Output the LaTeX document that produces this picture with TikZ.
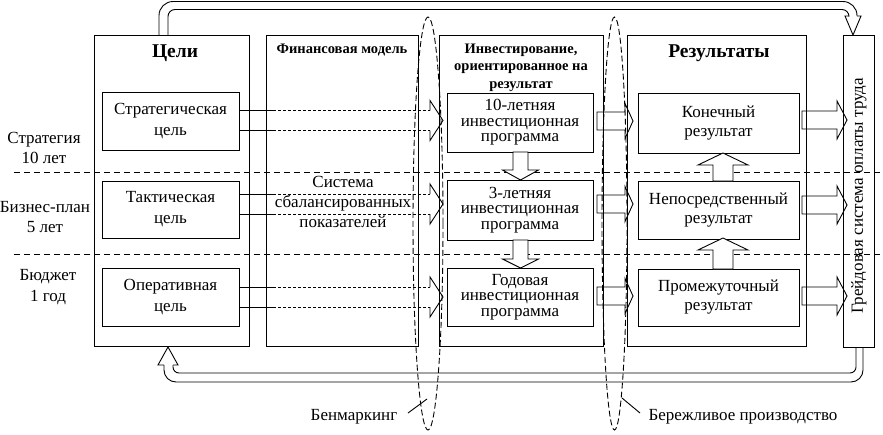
\documentclass[tikz,border=0pt]{standalone}
\usepackage{fontspec}
\setmainfont{Liberation Serif}
\usetikzlibrary{shapes.geometric}
\newcommand\HArrow[6]{\draw[harrow] (#1,#4-#5) -- (#2,#4-#5) -- (#2,#4-#6) -- (#3,#4) -- (#2,#4+#6) -- (#2,#4+#5) -- (#1,#4+#5) -- cycle;}
\newcommand\VArrow[6]{\draw[harrow,fill=white] (#1-#5,#2) -- (#1-#5,#3) -- (#1-#6,#3) -- (#1,#4) -- (#1+#6,#3) -- (#1+#5,#3) -- (#1+#5,#2) -- cycle;}
\newcommand\GoalArrow[1]{%
  \draw (239,#1-10) -- (273,#1-10);
  \draw (239,#1+10) -- (273,#1+10);
  \draw[shaft] (273,#1-10) -- (430,#1-10);
  \draw[shaft] (273,#1+10) -- (430,#1+10);
  \draw (430,#1-10) -- (430,#1-20) -- (443,#1) -- (430,#1+20) -- (430,#1+10);}
\begin{document}
\begin{tikzpicture}[x=1pt,y=-1pt,line width=0.9pt,
  outerbox/.style={draw,inner sep=0pt},
  inbox/.style={draw,align=center,inner sep=0pt,font=\fontsize{17}{21}\selectfont},
  invbox/.style={draw,align=center,inner sep=0pt,font=\fontsize{17}{15.5}\selectfont},
  resbox/.style={draw,align=center,inner sep=0pt,font=\fontsize{17}{19}\selectfont},
  bighead/.style={font=\bfseries\fontsize{19.5}{22}\selectfont},
  subhead/.style={font=\bfseries\fontsize{14.5}{17.5}\selectfont,align=center},
  lbl/.style={font=\fontsize{17}{20.5}\selectfont,align=center},
  hline/.style={dash pattern=on 6pt off 4pt},
  shaft/.style={dash pattern=on 3pt off 2pt},
  harrow/.style={draw},
  ell/.style={ellipse,draw,dash pattern=on 6pt off 3pt,inner sep=0pt}]
\useasboundingbox (0,0) rectangle (883,434);

% dashed horizontal lines
\draw[hline] (14,172) -- (883,172);
\draw[hline] (14,254) -- (883,254);

% outer boxes
\node[outerbox,minimum width=155,minimum height=311] (goals) at (171.5,190.5) {};
\node[outerbox,minimum width=152,minimum height=311] (fin) at (342,190.5) {};
\node[outerbox,minimum width=164,minimum height=311] (inv) at (521,190.5) {};
\node[outerbox,minimum width=179,minimum height=311] (res) at (716.5,190.5) {};

% headers
\node[bighead] (hgoals) at (175,53) {Цели};
\node[subhead] (hfin) at (342,50) {Финансовая модель};
\node[subhead] (hinv) at (521,67.5) {Инвестирование,\\ориентированное на\\результат};
\node[bighead] (hres) at (719,53) {Результаты};

% inner boxes
\node[inbox,minimum width=137,minimum height=58] (sg) at (170.5,121) {Стратегическая\\цель};
\node[inbox,minimum width=137,minimum height=57] (tg) at (170.5,209.5) {Тактическая\\цель};
\node[inbox,minimum width=137,minimum height=58] (og) at (170.5,297) {Оперативная\\цель};
\node[invbox,minimum width=146,minimum height=59] (i10) at (520,122.5) {10-летняя\\инвестиционная\\программа};
\node[invbox,minimum width=146,minimum height=60] (i3) at (520,210) {3-летняя\\инвестиционная\\программа};
\node[invbox,minimum width=146,minimum height=58] (i1) at (520,297) {Годовая\\инвестиционная\\программа};
\node[resbox,minimum width=161,minimum height=60] (rk) at (718.5,123) {Конечный\\результат};
\node[resbox,minimum width=161,minimum height=58] (rn) at (718.5,210) {Непосредственный\\результат};
\node[resbox,minimum width=161,minimum height=57] (rp) at (718.5,297.5) {Промежуточный\\результат};

\node[lbl,font=\fontsize{17}{20}\selectfont] (bsc) at (343,202) {Система\\сбалансированных\\показателей};

% left labels
\node[lbl] (l1) at (44,148) {Стратегия\\10 лет};
\node[lbl] (l2) at (45,217) {Бизнес-план\\5 лет};
\node[lbl] (l3) at (48,287) {Бюджет\\1 год};

% goal arrows
\GoalArrow{120.5}
\GoalArrow{204}
\GoalArrow{297}

% inv -> res arrows
\HArrow{597}{625}{633}{121}{9}{17.5}
\HArrow{597}{625}{633}{204}{9}{17.5}
\HArrow{597}{625}{633}{296}{9}{17.5}

% res -> grade arrows
\HArrow{802}{837}{847}{120}{9}{19}
\HArrow{802}{837}{847}{205}{9}{19}
\HArrow{802}{837}{847}{296}{9}{19}

% vertical arrows
\VArrow{520.5}{152}{170}{180}{7.5}{18}
\VArrow{520.5}{240}{259}{268}{7.5}{18}
\VArrow{723}{181}{165}{153}{10}{25}
\VArrow{723}{269}{250}{238}{10}{25}

% grade box
\node[outerbox,minimum width=31,minimum height=312] (grade) at (858.5,191) {};
\node[lbl,rotate=90] (gradet) at (859,196) {Грейдовая система оплаты труда};

% top feedback tube
\draw[rounded corners=14pt] (159,35) -- (159,1.5) -- (857,1.5) -- (857,16);
\draw[rounded corners=7pt] (168,35) -- (168,9.5) -- (849,9.5) -- (849,16);
\draw (857,16) -- (861,16) -- (853,35) -- (845,16) -- (849,16);

% bottom feedback tube
\draw[rounded corners=12pt] (164,365) -- (164,382) -- (863,382) -- (863,347);
\draw[rounded corners=6pt] (173,365) -- (173,373) -- (856,373) -- (856,347);
\draw (164,365) -- (158,365) -- (168,347) -- (178,365) -- (173,365);

% ellipses
\node[ell,minimum width=30,minimum height=413] (bench) at (428,223.5) {};
\node[ell,minimum width=25,minimum height=413] (lean) at (614.5,223.5) {};

% bottom labels
\node[lbl] (bmk) at (354,417) {Бенмаркинг};
\node[lbl] (lpl) at (743,417) {Бережливое производство};
\coordinate (bmkp) at (427,399);
\coordinate (lplp) at (622,398);
\draw (408,413) -- (bmkp);
\draw (640,413) -- (lplp);
\end{tikzpicture}
\end{document}
